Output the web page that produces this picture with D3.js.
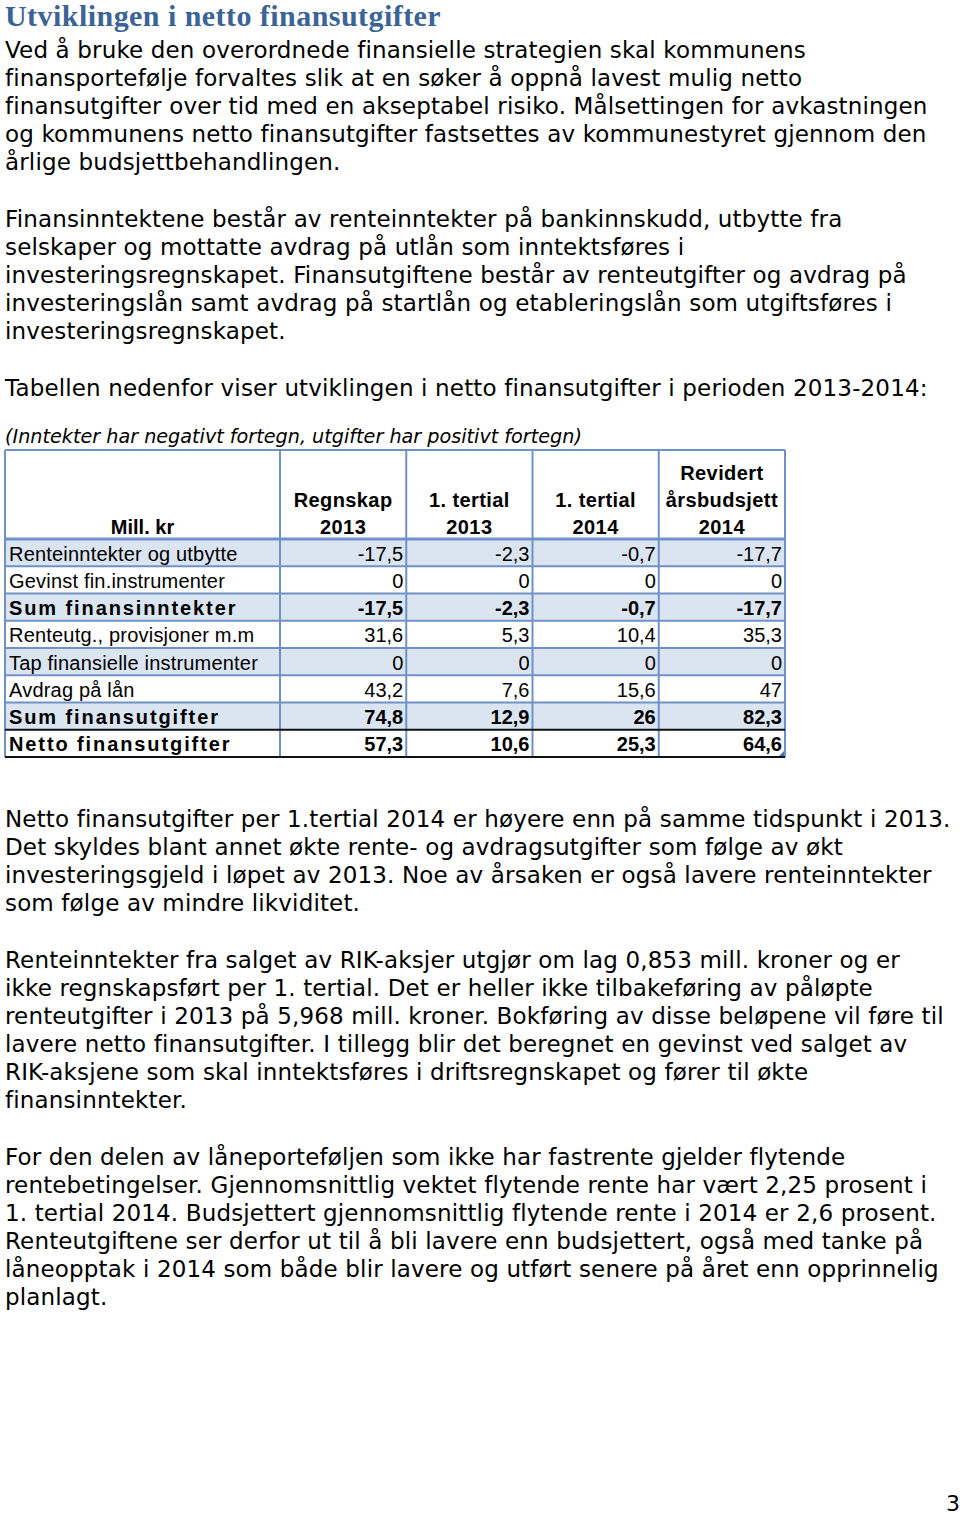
<!DOCTYPE html>
<html>
<head>
<meta charset="utf-8">
<script src="https://cdn.jsdelivr.net/npm/d3@7"></script>
<style>
  body { margin: 0; background: #fff; }
  svg { display: block; }
</style>
</head>
<body>
<div id="page"></div>
<script>
// table data
var columns = ["Regnskap 2013", "1. tertial 2013", "1. tertial 2014", "Revidert årsbudsjett 2014"];
var headerLines = [["Regnskap", "2013"], ["1. tertial", "2013"], ["1. tertial", "2014"], ["Revidert", "årsbudsjett", "2014"]];
var rowLabels = ["Renteinntekter og utbytte", "Gevinst fin.instrumenter", "Sum finansinntekter",
  "Renteutg., provisjoner m.m", "Tap finansielle instrumenter", "Avdrag på lån",
  "Sum finansutgifter", "Netto finansutgifter"];
var regnskap2013 = [-17.5, 0, -17.5, 31.6, 0, 43.2, 74.8, 57.3];
var tertial2013  = [-2.3, 0, -2.3, 5.3, 0, 7.6, 12.9, 10.6];
var tertial2014  = [-0.7, 0, -0.7, 10.4, 0, 15.6, 26, 25.3];
var budsjett2014 = [-17.7, 0, -17.7, 35.3, 0, 47, 82.3, 64.6];
var boldRows = ["Sum finansinntekter", "Sum finansutgifter", "Netto finansutgifter"];
var shadedRows = ["Renteinntekter og utbytte", "Sum finansinntekter", "Tap finansielle instrumenter", "Sum finansutgifter"];

var title = "Utviklingen i netto finansutgifter";
var para1 = ["Ved å bruke den overordnede finansielle strategien skal kommunens",
  "finansportefølje forvaltes slik at en søker å oppnå lavest mulig netto",
  "finansutgifter over tid med en akseptabel risiko. Målsettingen for avkastningen",
  "og kommunens netto finansutgifter fastsettes av kommunestyret gjennom den",
  "årlige budsjettbehandlingen."];
var para2 = ["Finansinntektene består av renteinntekter på bankinnskudd, utbytte fra",
  "selskaper og mottatte avdrag på utlån som inntektsføres i",
  "investeringsregnskapet. Finansutgiftene består av renteutgifter og avdrag på",
  "investeringslån samt avdrag på startlån og etableringslån som utgiftsføres i",
  "investeringsregnskapet."];
var para3 = ["Tabellen nedenfor viser utviklingen i netto finansutgifter i perioden 2013-2014:"];
var note = "(Inntekter har negativt fortegn, utgifter har positivt fortegn)";
var para4 = ["Netto finansutgifter per 1.tertial 2014 er høyere enn på samme tidspunkt i 2013.",
  "Det skyldes blant annet økte rente- og avdragsutgifter som følge av økt",
  "investeringsgjeld i løpet av 2013. Noe av årsaken er også lavere renteinntekter",
  "som følge av mindre likviditet."];
var para5 = ["Renteinntekter fra salget av RIK-aksjer utgjør om lag 0,853 mill. kroner og er",
  "ikke regnskapsført per 1. tertial. Det er heller ikke tilbakeføring av påløpte",
  "renteutgifter i 2013 på 5,968 mill. kroner. Bokføring av disse beløpene vil føre til",
  "lavere netto finansutgifter. I tillegg blir det beregnet en gevinst ved salget av",
  "RIK-aksjene som skal inntektsføres i driftsregnskapet og fører til økte",
  "finansinntekter."];
var para6 = ["For den delen av låneporteføljen som ikke har fastrente gjelder flytende",
  "rentebetingelser. Gjennomsnittlig vektet flytende rente har vært 2,25 prosent i",
  "1. tertial 2014. Budsjettert gjennomsnittlig flytende rente i 2014 er 2,6 prosent.",
  "Renteutgiftene ser derfor ut til å bli lavere enn budsjettert, også med tanke på",
  "låneopptak i 2014 som både blir lavere og utført senere på året enn opprinnelig",
  "planlagt."];

var width = 960, height = 1515;
var bodyFont = "'DejaVu Sans', Verdana, sans-serif";
var tableFont = "'Liberation Sans', Arial, sans-serif";
var border = "#6f91c6", shade = "#dbe5f1";

var svg = d3.select("#page").append("svg")
    .attr("width", width)
    .attr("height", height);

svg.append("rect").attr("width", width).attr("height", height).attr("fill", "#fff");

svg.append("text")
    .attr("x", 5).attr("y", 26)
    .style("font-family", "'Liberation Serif', 'DejaVu Serif', serif")
    .style("font-weight", "bold")
    .style("font-size", "30px")
    .style("letter-spacing", "0.45px")
    .attr("fill", "#3b6398")
    .text(title);

function paragraph(lines, y0) {
  svg.append("g").selectAll("text")
      .data(lines)
    .enter().append("text")
      .attr("x", 5)
      .attr("y", function(d, i) { return y0 + i * 28; })
      .style("font-family", bodyFont)
      .style("font-size", "23px")
      .style("letter-spacing", "0.15px")
      .attr("fill", "#000")
      .text(function(d) { return d; });
}

paragraph(para1, 58);
paragraph(para2, 227);
paragraph(para3, 396);
paragraph(para4, 827);
paragraph(para5, 968);
paragraph(para6, 1165);

svg.append("text")
    .attr("x", 5).attr("y", 443)
    .style("font-family", bodyFont)
    .style("font-style", "italic")
    .style("font-size", "19.2px")
    .text(note);

// table
var values = [regnskap2013, tertial2013, tertial2014, budsjett2014];
var tableTop = 450, headBottom = 539, tableBottom = 757, left = 5, labelRight = 280, right = 785;

var x = d3.scaleBand().domain(columns).range([labelRight, right]);
var y = d3.scaleBand().domain(rowLabels).range([headBottom, tableBottom]);
var fmt = function(v) { return String(v).replace(".", ","); };

var table = svg.append("g").attr("class", "table");

// row shading
table.selectAll(".shade")
    .data(shadedRows)
  .enter().append("rect")
    .attr("x", left)
    .attr("y", function(d) { return y(d); })
    .attr("width", right - left)
    .attr("height", y.bandwidth())
    .attr("fill", shade);

// horizontal lines
table.selectAll(".hline")
    .data(rowLabels.slice(1, -1))
  .enter().append("line")
    .attr("x1", left).attr("x2", right)
    .attr("y1", function(d) { return y(d); })
    .attr("y2", function(d) { return y(d); })
    .attr("stroke", border).attr("stroke-width", 2);

table.append("line")
    .attr("x1", left).attr("x2", right)
    .attr("y1", tableTop).attr("y2", tableTop)
    .attr("stroke", border).attr("stroke-width", 2);

table.append("line")
    .attr("x1", left).attr("x2", right)
    .attr("y1", headBottom).attr("y2", headBottom)
    .attr("stroke", border).attr("stroke-width", 3);

// vertical lines
var vx = [left, labelRight].concat(columns.map(function(c) { return x(c) + x.bandwidth(); }));
table.selectAll(".vline")
    .data(vx)
  .enter().append("line")
    .attr("x1", function(d) { return d; })
    .attr("x2", function(d) { return d; })
    .attr("y1", tableTop).attr("y2", tableBottom)
    .attr("stroke", border).attr("stroke-width", 2);

// netto row in black
var netto = rowLabels[rowLabels.length - 1];
[y(netto), tableBottom].forEach(function(ly) {
  table.append("line")
      .attr("x1", left).attr("x2", right)
      .attr("y1", ly).attr("y2", ly)
      .attr("stroke", "#111").attr("stroke-width", 2);
});

// little resize mark in the corner
table.append("path")
    .attr("d", "M" + (right - 1) + "," + (tableBottom - 6) + "L" + (right - 1) + "," + (tableBottom - 1) + "L" + (right - 6) + "," + (tableBottom - 1) + "Z")
    .attr("fill", "#4a72b0");

// header
table.append("text")
    .attr("x", (left + labelRight) / 2)
    .attr("y", headBottom - 5)
    .attr("text-anchor", "middle")
    .style("font-family", tableFont)
    .style("font-weight", "bold")
    .style("font-size", "20px")
    .text("Mill. kr");

var head = table.selectAll(".head")
    .data(columns)
  .enter().append("text")
    .attr("text-anchor", "middle")
    .style("font-family", tableFont)
    .style("font-weight", "bold")
    .style("font-size", "20px")
    .style("letter-spacing", "0.4px");

head.selectAll("tspan")
    .data(function(d, i) { return headerLines[i].map(function(t, j, a) { return { col: d, t: t, k: a.length - 1 - j }; }); })
  .enter().append("tspan")
    .attr("x", function(d) { return x(d.col) + x.bandwidth() / 2; })
    .attr("y", function(d) { return headBottom - 5 - d.k * 27; })
    .text(function(d) { return d.t; });

// labels
table.selectAll(".label")
    .data(rowLabels)
  .enter().append("text")
    .attr("x", left + 4)
    .attr("y", function(d) { return y(d) + y.bandwidth() / 2 + 8; })
    .style("font-family", tableFont)
    .style("font-size", "20px")
    .style("font-weight", function(d) { return boldRows.indexOf(d) >= 0 ? "bold" : "normal"; })
    .style("letter-spacing", function(d) { return boldRows.indexOf(d) >= 0 ? "1.9px" : "0.2px"; })
    .text(function(d) { return d; });

// values
columns.forEach(function(c, ci) {
  table.append("g").selectAll("text")
      .data(values[ci])
    .enter().append("text")
      .attr("x", x(c) + x.bandwidth() - 3)
      .attr("y", function(d, i) { return y(rowLabels[i]) + y.bandwidth() / 2 + 8; })
      .attr("text-anchor", "end")
      .style("font-family", tableFont)
      .style("font-size", "20px")
      .style("font-weight", function(d, i) { return boldRows.indexOf(rowLabels[i]) >= 0 ? "bold" : "normal"; })
      .text(function(d) { return fmt(d); });
});

svg.append("text")
    .attr("x", 953).attr("y", 1511)
    .attr("text-anchor", "middle")
    .style("font-family", bodyFont)
    .style("font-size", "22px")
    .text("3");
</script>
</body>
</html>
